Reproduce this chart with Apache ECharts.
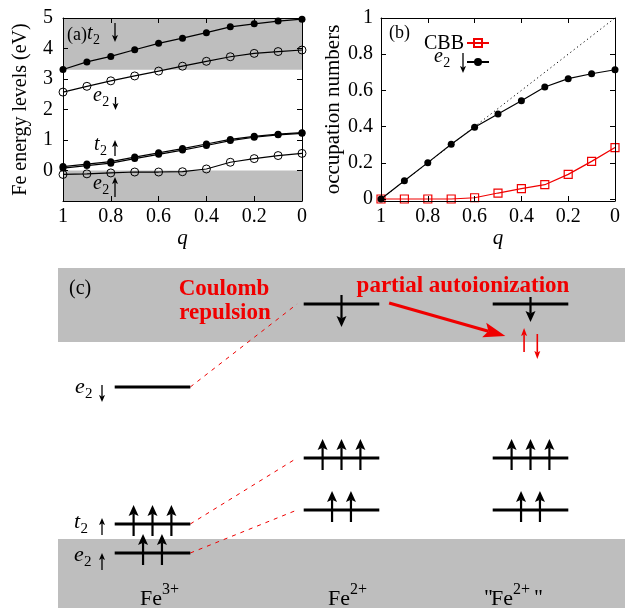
<!DOCTYPE html>
<html>
<head>
<meta charset="utf-8">
<script src="https://cdn.jsdelivr.net/npm/echarts@6/dist/echarts.min.js"></script>
<style>
  html, body { margin: 0; padding: 0; background: #fff; }
  #chart { width: 631px; height: 608px; }
</style>
</head>
<body>
<div id="chart"></div>
<script>
// ---------- panel (a): Fe level energies (eV) versus q ----------
const qValues = [1, 0.9, 0.8, 0.7, 0.6, 0.5, 0.4, 0.3, 0.2, 0.1, 0];
const t2DownLevel = [3.31, 3.56, 3.74, 3.96, 4.17, 4.34, 4.52, 4.71, 4.81, 4.90, 4.96];
const e2DownLevel = [2.57, 2.76, 2.94, 3.10, 3.26, 3.42, 3.58, 3.73, 3.84, 3.90, 3.95];
const t2UpLevelA = [0.13, 0.21, 0.29, 0.44, 0.58, 0.72, 0.87, 1.02, 1.12, 1.19, 1.24];
const t2UpLevelB = [0.08, 0.16, 0.24, 0.39, 0.53, 0.67, 0.82, 0.98, 1.09, 1.17, 1.22];
const e2UpLevel = [-0.13, -0.11, -0.08, -0.05, -0.05, -0.04, 0.05, 0.27, 0.39, 0.49, 0.56];
// band regions [bottom, top] in eV: conduction band and valence band
const bandsA = [[3.3, 5], [-1, 0]];
const energyTicks = [0, 1, 2, 3, 4, 5];
const qTicks = [1, 0.8, 0.6, 0.4, 0.2, 0];

// ---------- panel (b): occupation numbers versus q ----------
const cbbOccupation = [0, 0, 0, 0, 0.007, 0.033, 0.057, 0.079, 0.136, 0.208, 0.284];
const e2DownOccupation = [0, 0.101, 0.201, 0.302, 0.396, 0.470, 0.543, 0.619, 0.665, 0.692, 0.714];
const fullTransferQ = [1, 0];
const fullTransferN = [0, 1];
const occTicks = [0, 0.2, 0.4, 0.6, 0.8, 1];

// ---------- panel (c): level scheme (diagram units) ----------
const columnX = [0.5, 1.5, 2.5];           // Fe3+, Fe2+, "Fe2+"
const e2UpE = [5.5, 9.8, 9.8];
const t2UpE = [8.4, 15.0, 15.0];
const e2DownE = [22.1, 30.4, 30.4];
const e2UpCount = [2, 2, 2];
const t2UpCount = [3, 3, 3];
const e2DownCount = [0, 1, 1];
const e2DownFill = [0, 1, 0.78];           // partially occupied e2 down in the last column
const bandsC = [[26.6, 34], [0, 6.9]];
const autoionSpins = [[2.466, 25.6, 2.466, 28.0], [2.536, 27.4, 2.536, 24.9]];
const autoionTransfer = [[1.752, 30.5, 2.367, 27.2]];

const SERIF = '"Liberation Serif", "Times New Roman", serif';
const GRAY = '#bebebe';
const RED = '#f00000';

// ---------- derived geometry for the scheme ----------
const HALF = 0.2, SPACING = 0.1;
const levelBars = [];
const spinArrows = [];
const connectors = [];
function addLevel(col, E, count, dir, fill) {
  levelBars.push([columnX[col], E]);
  for (let k = 0; k < count; k++) {
    const x = columnX[col] + (k - (count - 1) / 2) * SPACING;
    if (dir > 0) spinArrows.push([x, E - 1.2, x, E + 1.9]);
    else spinArrows.push([x, E + 0.9 * fill, x, E - 2.3 * fill]);
  }
}
for (let c = 0; c < columnX.length; c++) {
  addLevel(c, e2UpE[c], e2UpCount[c], 1, 1);
  addLevel(c, t2UpE[c], t2UpCount[c], 1, 1);
  addLevel(c, e2DownE[c], e2DownCount[c], -1, e2DownFill[c]);
}
[e2UpE, t2UpE, e2DownE].forEach(arr => {
  connectors.push([columnX[0] + HALF, arr[0], columnX[1] - HALF - 0.035, arr[1]]);
});

function pairs(xs, ys) { return xs.map((x, i) => [x, ys[i]]); }

// ---------- render helpers ----------
function arrowShape(p0, p1, headLen, headW, lw, color, z) {
  const dx = p1[0] - p0[0], dy = p1[1] - p0[1];
  const L = Math.hypot(dx, dy) || 1;
  const ux = dx / L, uy = dy / L, nx = -uy, ny = ux;
  const bx = p1[0] - ux * headLen, by = p1[1] - uy * headLen;
  const mx = p1[0] - ux * headLen * 0.8, my = p1[1] - uy * headLen * 0.8;
  const shaft = { type: 'line', shape: { x1: p0[0], y1: p0[1], x2: mx, y2: my }, style: { stroke: color, lineWidth: lw } };
  const head = { type: 'polygon', shape: { points: [[p1[0], p1[1]], [bx + nx * headW / 2, by + ny * headW / 2], [mx, my], [bx - nx * headW / 2, by - ny * headW / 2]] },
    style: { fill: color } };
  if (z != null) { shaft.z = z; head.z = z; }
  return { type: 'group', children: [shaft, head] };
}
function bandRender(xMin, xMax) {
  return function (params, api) {
    const p0 = api.coord([xMin, api.value(1)]);
    const p1 = api.coord([xMax, api.value(0)]);
    return { type: 'rect', shape: { x: p0[0], y: p0[1], width: p1[0] - p0[0], height: p1[1] - p0[1] },
             style: { fill: GRAY } };
  };
}
function arrowRender(headLen, headW, lw, color) {
  return function (params, api) {
    return arrowShape(api.coord([api.value(0), api.value(1)]), api.coord([api.value(2), api.value(3)]),
                      headLen, headW, lw, color);
  };
}
function levelRender(params, api) {
  const p0 = api.coord([api.value(0) - HALF, api.value(1)]);
  const p1 = api.coord([api.value(0) + HALF, api.value(1)]);
  return { type: 'line', shape: { x1: p0[0], y1: p0[1], x2: p1[0], y2: p1[1] }, style: { stroke: '#000', lineWidth: 3 } };
}
function connectorRender(params, api) {
  const p0 = api.coord([api.value(0), api.value(1)]);
  const p1 = api.coord([api.value(2), api.value(3)]);
  return { type: 'line', shape: { x1: p0[0], y1: p0[1], x2: p1[0], y2: p1[1] },
           style: { stroke: RED, lineWidth: 1, lineDash: [4, 5] } };
}

// ---------- axes ----------
const axisText = { fontFamily: SERIF, fontSize: 20, color: '#000' };
function frameAxis(extra) {
  return Object.assign({
    type: 'value', z: 10,
    axisLine: { show: true, onZero: false, lineStyle: { color: '#000', width: 1 } },
    axisTick: { show: true, inside: true, length: 5, lineStyle: { color: '#000', width: 1 } },
    splitLine: { show: false },
    axisLabel: { show: false }
  }, extra);
}
const qAxisCommon = { min: 0, max: 1, interval: 0.2, inverse: true };
const qName = { name: 'q', nameLocation: 'middle', nameGap: 16,
  nameTextStyle: { fontFamily: SERIF, fontSize: 21, fontStyle: 'italic', color: '#000' } };
const qLabels = Object.assign({ show: true, margin: 6, showMinLabel: true, showMaxLabel: true,
  formatter: v => (qTicks.some(t => Math.abs(t - v) < 1e-6) ? String(+v.toFixed(1)) : '') }, axisText);
const xAxes = [
  frameAxis(Object.assign({ gridIndex: 0, position: 'bottom', axisLabel: qLabels }, qName, qAxisCommon)),
  frameAxis(Object.assign({ gridIndex: 0, position: 'top' }, qAxisCommon)),
  frameAxis(Object.assign({ gridIndex: 1, position: 'bottom', axisLabel: qLabels }, qName, qAxisCommon)),
  frameAxis(Object.assign({ gridIndex: 1, position: 'top' }, qAxisCommon)),
  { type: 'value', gridIndex: 2, min: 0, max: 3, show: false }
];
const yAxes = [
  frameAxis({ gridIndex: 0, position: 'left', min: -1, max: 5, interval: 1,
    axisLabel: Object.assign({ show: true, margin: 10,
      formatter: v => (energyTicks.indexOf(Math.round(v)) >= 0 ? String(Math.round(v)) : '') }, axisText),
    name: 'Fe energy levels (eV)', nameLocation: 'middle', nameGap: 32,
    nameTextStyle: { fontFamily: SERIF, fontSize: 20, color: '#000' } }),
  frameAxis({ gridIndex: 0, position: 'right', min: -1, max: 5, interval: 1 }),
  frameAxis({ gridIndex: 1, position: 'left', min: -0.011, max: 1,
    axisTick: { show: true, inside: true, length: 5, customValues: occTicks, lineStyle: { color: '#000' } },
    axisLabel: Object.assign({ show: true, margin: 8, customValues: occTicks,
      formatter: v => String(+(+v).toFixed(1)) }, axisText),
    name: 'occupation numbers', nameLocation: 'middle', nameGap: 35,
    nameTextStyle: { fontFamily: SERIF, fontSize: 21, color: '#000' } }),
  frameAxis({ gridIndex: 1, position: 'right', min: -0.011, max: 1,
    axisTick: { show: true, inside: true, length: 5, customValues: occTicks, lineStyle: { color: '#000' } } }),
  { type: 'value', gridIndex: 2, min: 0, max: 34, show: false }
];

// ---------- series ----------
function levelLine(name, data, filled) {
  return {
    name, type: 'line', xAxisIndex: 0, yAxisIndex: 0, data: pairs(qValues, data), z: 3, clip: false,
    symbol: 'circle', symbolSize: filled ? 7 : 8, animation: false,
    lineStyle: { color: '#000', width: 1.2 },
    itemStyle: filled ? { color: '#000' } : { color: 'rgba(0,0,0,0)', borderColor: '#000', borderWidth: 1 }
  };
}
const series = [
  { type: 'custom', xAxisIndex: 0, yAxisIndex: 0, data: bandsA, renderItem: bandRender(0, 1), z: 1, silent: true, animation: false },
  levelLine('t2 down', t2DownLevel, true),
  levelLine('e2 down', e2DownLevel, false),
  levelLine('t2 up a', t2UpLevelA, true),
  levelLine('t2 up b', t2UpLevelB, true),
  levelLine('e2 up', e2UpLevel, false),
  { name: 'full transfer', type: 'line', xAxisIndex: 2, yAxisIndex: 2, data: pairs(fullTransferQ, fullTransferN),
    symbol: 'none', lineStyle: { color: '#000', width: 1, type: [1.2, 3] }, z: 2, animation: false },
  { name: 'CBB', type: 'line', xAxisIndex: 2, yAxisIndex: 2, data: pairs(qValues, cbbOccupation), clip: false,
    symbol: 'rect', symbolSize: 8, z: 3, animation: false,
    lineStyle: { color: RED, width: 1.2 },
    itemStyle: { color: 'rgba(0,0,0,0)', borderColor: RED, borderWidth: 1.2 } },
  { name: 'e2', type: 'line', xAxisIndex: 2, yAxisIndex: 2, data: pairs(qValues, e2DownOccupation), clip: false,
    symbol: 'circle', symbolSize: 7, z: 4, animation: false,
    lineStyle: { color: '#000', width: 1.2 }, itemStyle: { color: '#000' } },
  // level scheme
  { type: 'custom', xAxisIndex: 4, yAxisIndex: 4, data: bandsC, renderItem: bandRender(0, 3), z: 1, silent: true, animation: false },
  { type: 'custom', xAxisIndex: 4, yAxisIndex: 4, data: connectors, renderItem: connectorRender, z: 2, silent: true, animation: false },
  { type: 'custom', xAxisIndex: 4, yAxisIndex: 4, data: levelBars, renderItem: levelRender, z: 3, silent: true, animation: false },
  { type: 'custom', xAxisIndex: 4, yAxisIndex: 4, data: spinArrows, renderItem: arrowRender(11, 10, 2.2, '#000'), z: 4, silent: true, animation: false },
  { type: 'custom', xAxisIndex: 4, yAxisIndex: 4, data: autoionSpins, renderItem: arrowRender(8, 6, 1.6, RED), z: 4, silent: true, animation: false },
  { type: 'custom', xAxisIndex: 4, yAxisIndex: 4, data: autoionTransfer, renderItem: arrowRender(22, 15, 3.2, RED), z: 4, silent: true, animation: false }
];

// ---------- text ----------
function txt(x, y, text, font, fill, align) {
  return { type: 'text', x: x, y: y, z: 100, silent: true,
    style: { text: text, font: font, fill: fill || '#000', align: align || 'left', verticalAlign: 'middle' } };
}
// thin spin arrow used inside orbital labels, from tail y0 to tip y1
function spinGlyph(x, y0, y1) {
  const g = arrowShape([x, y0], [x, y1], 7, 6, 1.3, '#000', 100);
  g.z = 100; g.silent = true;
  return g;
}
const F20 = '20px ' + SERIF, F18 = '18px ' + SERIF;
const FB23 = 'bold 23px ' + SERIF, F22 = '22px ' + SERIF, F16 = '16px ' + SERIF;
// italic symbol with subscript 2
function orbital(x, y, sym, size) {
  const s = size || 20;
  const w = (sym === 't' ? 0.3 : 0.46) * s;
  return [txt(x, y, sym, 'italic ' + s + 'px ' + SERIF), txt(x + w, y + 0.3 * s, '2', Math.round(0.7 * s) + 'px ' + SERIF)];
}
function ion(x0, y, sup, quoted) {
  const els = [txt(x0, y, 'Fe', F22), txt(x0 + 22, y - 9, sup, F16)];
  if (quoted) { els.push(txt(x0 - 7, y - 1, '"', F22), txt(x0 + 22 + 21, y - 1, '"', F22)); }
  return els;
}
const graphics = [].concat(
  [txt(67, 35, '(a)', F18)],
  orbital(87, 34, 't'), [spinGlyph(115, 23, 42)],
  orbital(93, 96, 'e'), [spinGlyph(115.5, 97, 110)],
  orbital(94, 145, 't'), [spinGlyph(115, 156, 140)],
  orbital(93, 184, 'e'), [spinGlyph(115, 197, 177)],
  [txt(389, 33, '(b)', F18), txt(464, 44, 'CBB', F20, '#000', 'right')],
  orbital(434, 57, 'e'), [spinGlyph(463, 53, 73)],
  [txt(69, 289, '(c)', F20),
   txt(224, 289, 'Coulomb', FB23, RED, 'center'),
   txt(225, 313, 'repulsion', FB23, RED, 'center'),
   txt(463, 286, 'partial autoionization', FB23, RED, 'center')],
  orbital(75, 387, 'e', 22), [spinGlyph(102, 385, 402)],
  orbital(74, 522, 't', 22), [spinGlyph(102, 535, 518)],
  orbital(74, 555, 'e', 22), [spinGlyph(102, 570, 553)],
  ion(140, 599, '3+', false),
  ion(328, 599, '2+', false),
  ion(491, 599, '2+', true)
);

const chart = echarts.init(document.getElementById('chart'), null, { renderer: 'canvas' });
chart.setOption({
  backgroundColor: '#fff',
  animation: false,
  grid: [
    { left: 63, top: 18, width: 239, height: 183, outerBoundsMode: 'none', containLabel: false },
    { left: 381, top: 18, width: 234, height: 183, outerBoundsMode: 'none', containLabel: false },
    { left: 58, top: 268, width: 567, height: 340, outerBoundsMode: 'none', containLabel: false }
  ],
  xAxis: xAxes,
  yAxis: yAxes,
  legend: [
    { data: ['CBB'], left: 466, top: 38, padding: 0, itemWidth: 22, itemHeight: 10, itemGap: 0,
      selectedMode: false, formatter: () => '', textStyle: { fontSize: 1 } },
    { data: ['e2'], left: 466, top: 57, padding: 0, itemWidth: 22, itemHeight: 10, itemGap: 0,
      selectedMode: false, formatter: () => '', textStyle: { fontSize: 1 } }
  ],
  series: series,
  graphic: { elements: graphics }
});
</script>
</body>
</html>
